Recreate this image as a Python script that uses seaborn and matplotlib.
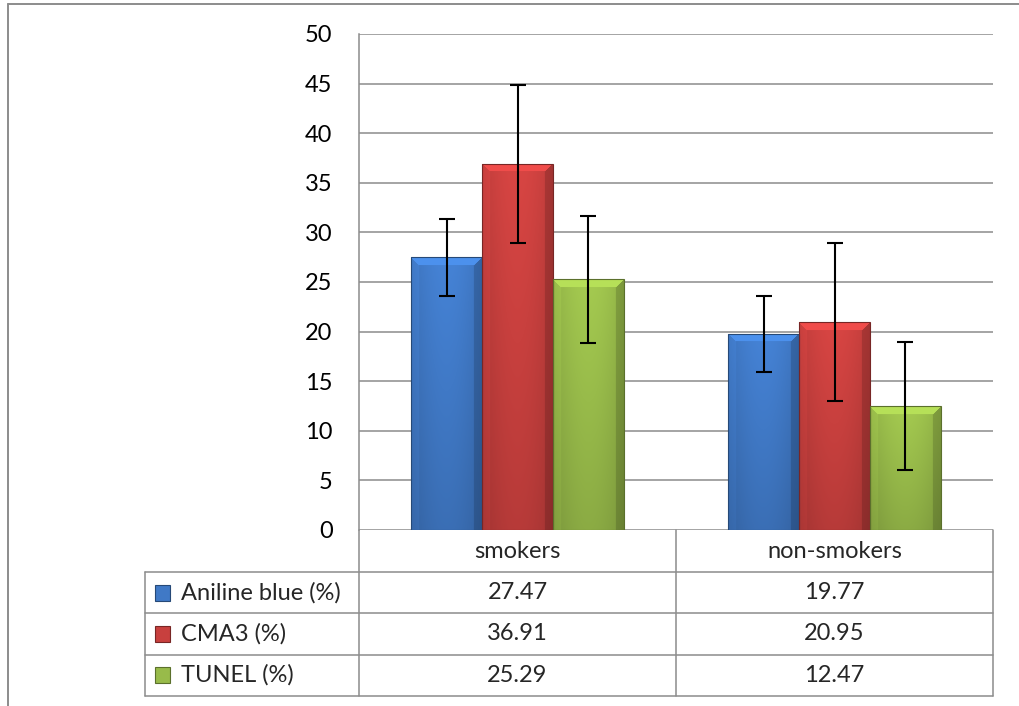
import numpy as np
import pandas as pd
import seaborn as sns
import matplotlib
matplotlib.use("Agg")
import matplotlib.pyplot as plt
import matplotlib.transforms as mtransforms
from matplotlib.patches import Rectangle
from matplotlib.lines import Line2D
from matplotlib.colors import to_rgb

# Datos
groups = ['smokers', 'non-smokers']
series = ['Aniline blue (%)', 'CMA3 (%)', 'TUNEL (%)']
aniline = [27.47, 19.77]
cma3 = [36.91, 20.95]
tunel = [25.29, 12.47]
aniline_err = [3.85, 3.85]
cma3_err = [7.95, 7.95]
tunel_err = [6.4, 6.45]
colors = ['#4079c6', '#c8403e', '#98bb4a']

values = [aniline, cma3, tunel]
errors = [aniline_err, cma3_err, tunel_err]

rows = []
for s, vals in zip(series, values):
    for g, v in zip(groups, vals):
        rows.append({'group': g, 'series': s, 'value': v})
df = pd.DataFrame(rows)

sns.set_theme(style="white")
plt.rcParams['font.family'] = ['Lato', 'DejaVu Sans']
fs = 17

fig = plt.figure(figsize=(10.2, 7.06), dpi=100)
ax = fig.add_axes([359 / 1020, 1 - 530 / 706, 634 / 1020, 496 / 706])

sns.barplot(data=df, x='group', y='value', hue='series', palette=colors,
            width=0.67, gap=0, saturation=1, errorbar=None, legend=False, ax=ax)

ax.set_xlim(-0.5, 1.5)
ax.set_ylim(0, 50)
ax.set_yticks(np.arange(0, 51, 5))
ax.set_xticks([])
ax.set_xlabel('')
ax.set_ylabel('')
ax.tick_params(axis='y', length=0, pad=19, labelsize=fs, labelcolor='black')
for side in ['top', 'right', 'bottom']:
    ax.spines[side].set_visible(False)
ax.spines['left'].set_color('#8c8c8c')
ax.spines['left'].set_linewidth(1.1)
ax.yaxis.grid(True, color='#8c8c8c', linewidth=1.1)
ax.set_axisbelow(True)


# Sombreado tipo "bisel" de Excel
def bevel_image(base, w_px, h_px, b=8):
    base = np.array(to_rgb(base))
    nx, ny = max(int(w_px), 2), max(int(h_px), 2)
    xi = np.arange(nx)[None, :].repeat(ny, 0)
    yi = np.arange(ny)[:, None].repeat(nx, 1)
    dl, dr, dt = xi, nx - 1 - xi, yi
    t = xi / (nx - 1)
    s = yi / (ny - 1)
    fac = (0.92 + 0.12 * np.sin(np.pi * t)) * (1.04 - 0.16 * s)
    top = (dt < b) & (dt <= dl) & (dt <= dr)
    left = (dl < b) & (dl < dt) & ~top
    right = (dr < b) & (dr < dt) & ~top
    fac = np.where(top, 1.2, fac)
    fac = np.where(left, fac * 1.05, fac)
    fac = np.where(right, fac * 0.85, fac)
    img = np.clip(base[None, None, :] * fac[..., None], 0, 1)
    return img


bar_conts = list(ax.containers)
for i, cont in enumerate(bar_conts):
    for j, bar in enumerate(cont):
        x0, y0 = bar.get_x(), bar.get_y()
        w, h = bar.get_width(), bar.get_height()
        p0 = ax.transData.transform((x0, y0))
        p1 = ax.transData.transform((x0 + w, y0 + h))
        img = bevel_image(colors[i], p1[0] - p0[0], p1[1] - p0[1])
        im = ax.imshow(img, extent=(x0, x0 + w, y0, y0 + h), aspect='auto',
                       origin='upper', zorder=2, interpolation='bilinear')
        im.set_clip_path(bar)
        dark = np.array(to_rgb(colors[i])) * 0.6
        bar.set_facecolor('none')
        bar.set_edgecolor(dark)
        bar.set_linewidth(0.8)
        bar.set_zorder(3)
        ax.errorbar(x0 + w / 2, h, yerr=errors[i][j], color='black',
                    elinewidth=1.5, capsize=6, capthick=1.5, zorder=4)

ax.set_xlim(-0.5, 1.5)
ax.set_ylim(0, 50)

# Tabla de datos
trans = mtransforms.blended_transform_factory(ax.transData, ax.transAxes)
hdr = 42 / 496
rh = 41.3 / 496
xl = -1.175
bottom = -hdr - 3 * rh
lc = '#8c8c8c'
lw = 1.1

for xv in [-0.5, 0.5, 1.5]:
    ax.add_line(Line2D([xv, xv], [0, bottom], transform=trans, color=lc, lw=lw, clip_on=False))
ax.add_line(Line2D([xl, xl], [-hdr, bottom], transform=trans, color=lc, lw=lw, clip_on=False))
for k in range(4):
    yv = -hdr - k * rh
    ax.add_line(Line2D([xl, 1.5], [yv, yv], transform=trans, color=lc, lw=lw, clip_on=False))

for j, g in enumerate(groups):
    ax.text(j, -hdr / 2, g, transform=trans, ha='center', va='center', fontsize=fs)

for i, s in enumerate(series):
    yc = -hdr - (i + 0.5) * rh
    ax.add_patch(Rectangle((xl + 0.03, yc - 0.016), 0.05, 0.032, transform=trans,
                           facecolor=colors[i], edgecolor=np.array(to_rgb(colors[i])) * 0.6,
                           lw=0.8, clip_on=False))
    ax.text(xl + 0.115, yc, s, transform=trans, ha='left', va='center', fontsize=fs)
    for j in range(len(groups)):
        ax.text(j, yc, f"{values[i][j]:.2f}", transform=trans, ha='center', va='center', fontsize=fs)

# Marco exterior
fig.add_artist(Line2D([8 / 1020, 1.0], [1 - 4 / 706, 1 - 4 / 706], transform=fig.transFigure,
                      color=lc, lw=1.4))
fig.add_artist(Line2D([8 / 1020, 8 / 1020], [0, 1 - 4 / 706], transform=fig.transFigure,
                      color=lc, lw=1.4))

fig.savefig('out.png', dpi=100)
